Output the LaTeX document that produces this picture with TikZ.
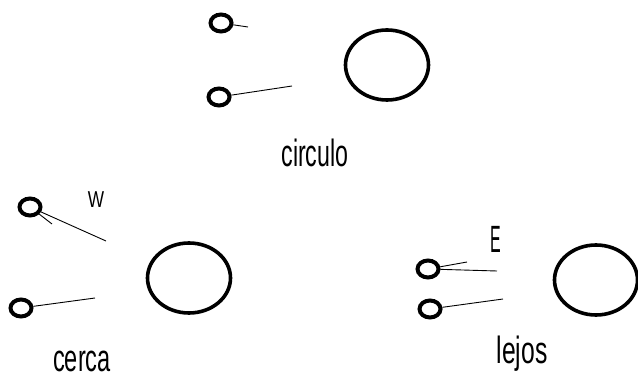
\documentclass[tikz,border=0pt]{standalone}
\usepackage{fontspec}
\setmainfont{Liberation Sans}
\usetikzlibrary{shapes.geometric}
\begin{document}
\begin{tikzpicture}[x=1pt,y=-1pt,
  small/.style={draw,ellipse,line width=4pt,inner sep=0pt,minimum width=21pt,minimum height=17pt},
  big/.style={draw,ellipse,line width=3.6pt,inner sep=0pt,minimum width=83pt,minimum height=70pt},
  wire/.style={line width=0.9pt},
  lbl/.style={anchor=base,inner sep=0pt,font=\fontsize{38}{42}\selectfont},
  wlbl/.style={anchor=base,inner sep=0pt,font=\fontsize{23}{26}\selectfont}]
\path[use as bounding box] (0,0) rectangle (638,382);
% top group
\node[small] (t1) at (221,23) {};
\node[small] (t2) at (219,97) {};
\node[big] (tb) at (387,65) {};
\coordinate (t1e) at (248,27);
\coordinate (t2e) at (292,86);
\draw[wire] (t1) -- (t1e);
\draw[wire] (t2) -- (t2e);
\node[lbl] (circ) at (315,167) {\scalebox{0.61}[1]{circulo}};
% bottom-left group
\node[small] (l1) at (30,207) {};
\node[small] (l2) at (21,308) {};
\node[big] (lb) at (189,278) {};
\coordinate (l1e) at (106,241);
\coordinate (l1s) at (52,224);
\coordinate (l2e) at (95,298);
\draw[wire] (l1) -- (l1e);
\draw[wire] (l1) -- (l1s);
\draw[wire] (l2) -- (l2e);
\node[wlbl] (w) at (96,208) {\scalebox{0.75}[1]{W}};
\node[lbl] (cerca) at (82,372) {\scalebox{0.62}[1]{cerca}};
% bottom-right group
\node[small] (r1) at (428,269) {};
\node[small] (r2) at (430,309) {};
\node[big] (rb) at (596,280) {};
\coordinate (r1a) at (467,262);
\coordinate (r1b) at (497,271);
\coordinate (r2e) at (503,299);
\draw[wire] (r1) -- (r1a);
\draw[wire] (r1) -- (r1b);
\draw[wire] (r2) -- (r2e);
\node[lbl] (E) at (496,253) {\scalebox{0.42}[1]{E}};
\node[lbl] (lejos) at (522,363) {\scalebox{0.65}[1]{lejos}};
\end{tikzpicture}
\end{document}
